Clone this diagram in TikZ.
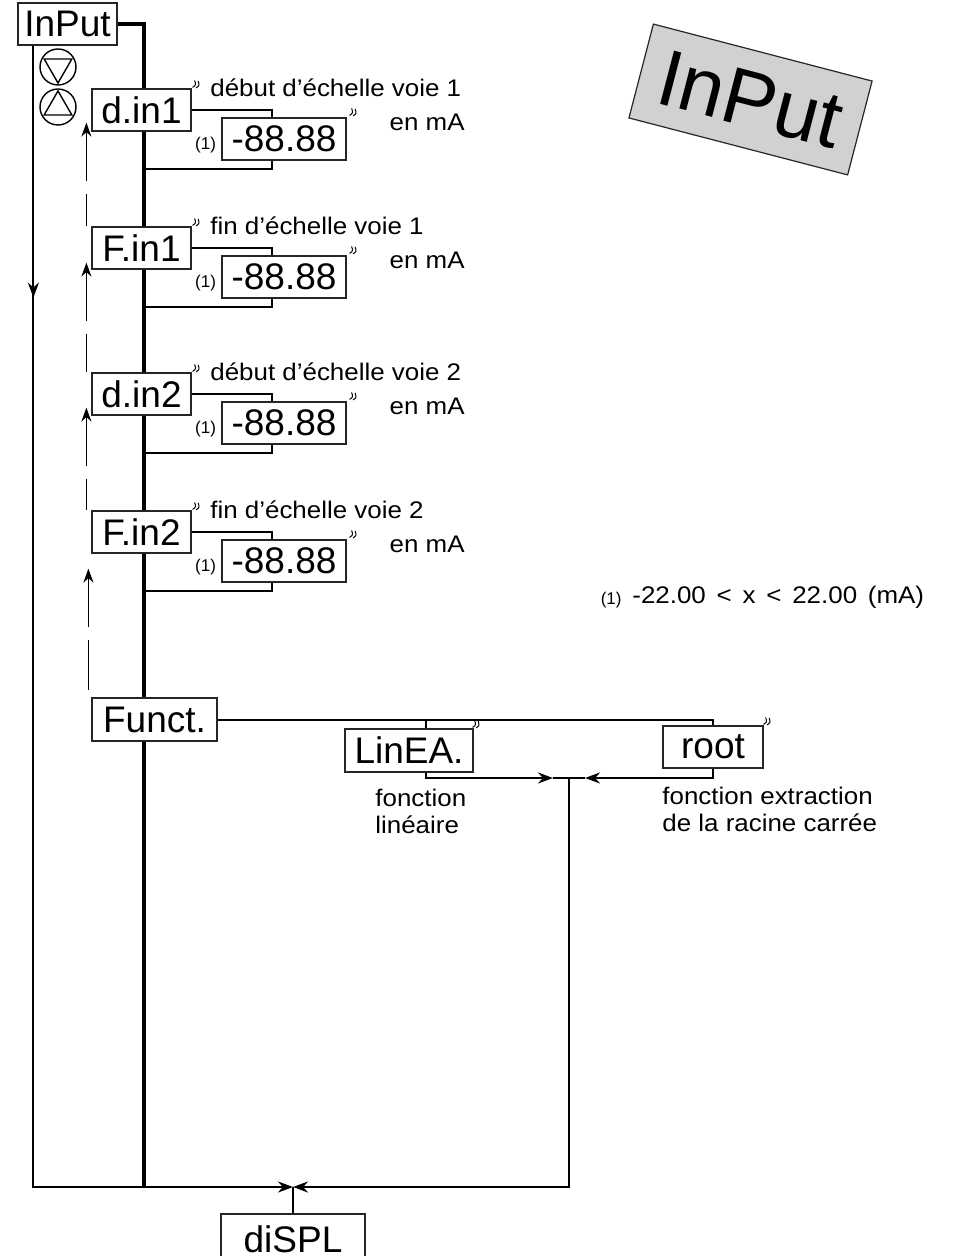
\documentclass[tikz,border=0pt]{standalone}
\usepackage{fontspec}
\setmainfont{Liberation Sans}
\newfontfamily\notefont[FakeStretch=1.08]{Liberation Sans}
\usetikzlibrary{arrows.meta, positioning, shapes.geometric, backgrounds}
\tikzset{
    menu/.style={x=0.5pt, y=-0.5pt},
    menu box/.style={draw=black!85, line width=0.6pt, fill=white, inner sep=0pt,
        minimum width=49.5pt, minimum height=21pt, font=\fontsize{18.5}{20}\selectfont},
    value box/.style={menu box, minimum width=62pt},
    menu note/.style={font=\notefont\fontsize{12}{13.5}\selectfont, inner sep=0pt},
    menu small/.style={font=\fontsize{8.5}{10}\selectfont, inner sep=0pt},
    menu line/.style={line width=1pt},
    menu spine/.style={line width=2pt},
    menu arrow/.style={menu line, -{Stealth[length=7.5pt, width=5.5pt]}},
    return arrow/.style={line width=0.75pt, {Stealth[length=7pt, width=5pt]}-,
        dash pattern=on 25pt off 6.5pt},
    key/.style={circle, draw, line width=0.7pt, minimum size=18pt, inner sep=0pt},
    key mark/.style={regular polygon, regular polygon sides=3, draw,
        line width=0.7pt, minimum size=16pt, inner sep=0pt},
    blink/.pic={
        \draw[line width=0.5pt] (0,0) .. controls (3.5,-2.5) .. (2,-7);
        \draw[line width=0.5pt] (3.5,0.5) .. controls (7,-2) .. (5.5,-6.5);
    },
}

\begin{document}
\begin{tikzpicture}[menu]
    \useasboundingbox (0,0) rectangle (977,1256);

    % menu entries
    \node[menu box] (input) at (67.5,24) {InPut};
    \node[key] (keydown) at (58,67) {};
    \node[key mark, shape border rotate=180] at (keydown) {};
    \node[key] (keyup) at (58,107) {};
    \node[key mark] at (keyup) {};

    \foreach \name/\y/\txt/\lbl in {din1/89/d.in1/début d’échelle voie 1,
            fin1/227/F.in1/fin d’échelle voie 1,
            din2/373/d.in2/début d’échelle voie 2,
            fin2/511/F.in2/fin d’échelle voie 2} {
        \node[menu box] (\name) at (141.5,\y+21) {\txt};
        \node[value box] (\name val) at (284,\y+50) {-88.88};
        \node[menu small, left=2.5pt of \name val.west, yshift=-3.25pt] {(1)};
        \node[menu note, anchor=west] (\name text) at (210,\y-1) {\lbl};
        \node[menu note, anchor=east] (\name unit) at (465,\y+33) {en mA};
        \pic at ([xshift=0.5pt, yshift=0.5pt]\name.north east) {blink};
        \pic at ([xshift=1.5pt, yshift=1pt]\name val.north east) {blink};
    }

    \node[menu box, minimum width=62.5pt, minimum height=21.5pt] (funct) at (154.5,719.5) {Funct.};
    \node[menu box, minimum width=64pt, minimum height=21.5pt] (linea) at (409,750.5) {LinEA.};
    \node[menu box, minimum width=50pt] (root) at (713,747) {root};
    \node[menu box, minimum width=72pt, minimum height=27pt] (displ) at (293,1241) {\raisebox{2pt}{diSPL}};
    \pic at ([xshift=-0.5pt, yshift=0.5pt]linea.north east) {blink};
    \pic at ([xshift=0pt, yshift=0.5pt]root.north east) {blink};

    \node[menu note, anchor=north west, align=left] (linea text) at (375,789) {fonction\\linéaire};
    \node[menu note, anchor=north west, align=left] (root text) at (662,787)
        {fonction extraction\\de la racine carrée};

    % range note
    \node[menu note, anchor=west] (range) at (632,597)
        {\spaceskip=0.45em -22.00 < x < 22.00 (mA)};
    \node[menu small, left=5pt of range, yshift=-1.5pt] {(1)};

    % title
    \node[draw=black!85, line width=0.6pt, fill=black!18, rotate=-14.6,
        minimum width=113pt, minimum height=48.5pt, inner sep=0pt,
        font=\fontsize{40}{40}\selectfont] (title) at (750.5,99.5) {InPut};

    \coordinate (spine end) at (144,1187);
    \coordinate (merge) at (293,1187);
    \coordinate (fn join) at (569,778);
    \coordinate (lin tip) at (553,778);
    \coordinate (root tip) at (585,778);
    \coordinate (lin turn) at (426,778);
    \coordinate (root turn) at (root.center |- fn join);

    \begin{scope}[on background layer]
        \draw[menu spine] (input.east) -| (spine end);
        \draw[menu line] ([xshift=8pt]input.south west) |- (spine end);
        \draw[menu arrow] ([xshift=8pt]input.south west) -- ++(0,252);
        \draw[menu arrow] (spine end) -- (merge);
        \draw[menu arrow] (fn join) |- (merge);
        \draw[menu line] (merge) -- (displ.north);

        \foreach \name in {din1, fin1, din2, fin2}
            \draw[menu line] (\name.east) -- ++(80,0) |- ([yshift=-29.5pt]\name.center -| spine end);

        \draw[menu arrow] (funct.east) -| (root turn) -- (root tip);
        \draw[menu arrow] (funct.east -| lin turn) -- (lin turn) -- (lin tip);
        \draw[menu line] (lin tip) -- (root tip);

        % way back up
        \draw[return arrow] ([xshift=-2.5pt, yshift=4.5pt]din1.south west) -- ([xshift=-2.5pt]fin1.north west);
        \draw[return arrow] ([xshift=-2.5pt, yshift=3.5pt]fin1.south west) -- ([xshift=-2.5pt]din2.north west);
        \draw[return arrow] ([xshift=-2.5pt, yshift=4pt]din2.south west) -- ([xshift=-2.5pt]fin2.north west);
        \draw[return arrow] ([xshift=-1.5pt, yshift=-7.5pt]fin2.south west) -- ([xshift=-1.5pt]funct.north west);
    \end{scope}
\end{tikzpicture}
\end{document}
